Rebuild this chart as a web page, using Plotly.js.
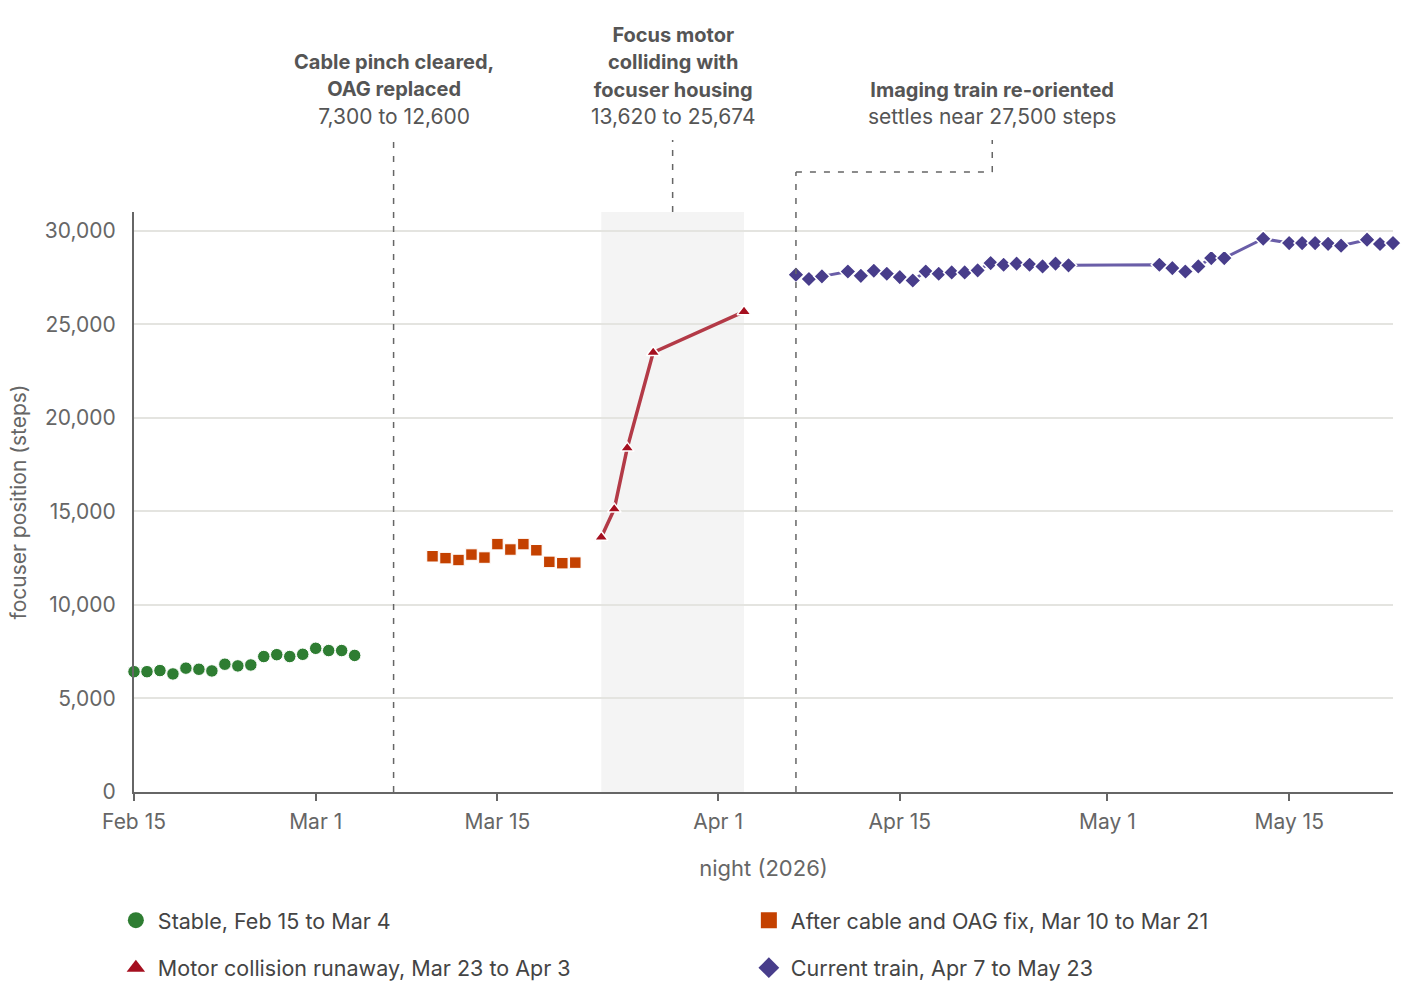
<!DOCTYPE html>
<html>
<head>
<meta charset="utf-8">
<script src="https://cdn.plot.ly/plotly-3.0.1.min.js"></script>
<style>html,body{margin:0;padding:0;background:#fff;}#chart{width:1410px;height:1008px;}</style>
</head>
<body>
<div id="chart"></div>
<script>
// ---- data ----
const stableDates = ['2026-02-15','2026-02-16','2026-02-17','2026-02-18','2026-02-19','2026-02-20','2026-02-21','2026-02-22','2026-02-23','2026-02-24','2026-02-25','2026-02-26','2026-02-27','2026-02-28','2026-03-01','2026-03-02','2026-03-03','2026-03-04'];
const stableSteps = [6430,6430,6490,6310,6620,6560,6470,6830,6740,6790,7240,7340,7240,7360,7680,7560,7560,7300];

const fixDates = ['2026-03-10','2026-03-11','2026-03-12','2026-03-13','2026-03-14','2026-03-15','2026-03-16','2026-03-17','2026-03-18','2026-03-19','2026-03-20','2026-03-21'];
const fixSteps = [12600,12500,12400,12690,12530,13250,12960,13250,12920,12300,12230,12260];

const runawayDates = ['2026-03-23','2026-03-24','2026-03-25','2026-03-27','2026-04-03'];
const runawaySteps = [13620,15120,18380,23490,25674];

const currentDates = ['2026-04-07','2026-04-08','2026-04-09','2026-04-11','2026-04-12','2026-04-13','2026-04-14','2026-04-15','2026-04-16','2026-04-17','2026-04-18','2026-04-19','2026-04-20','2026-04-21','2026-04-22','2026-04-23','2026-04-24','2026-04-25','2026-04-26','2026-04-27','2026-04-28','2026-05-05','2026-05-06','2026-05-07','2026-05-08','2026-05-09','2026-05-10','2026-05-13','2026-05-15','2026-05-16','2026-05-17','2026-05-18','2026-05-19','2026-05-21','2026-05-22','2026-05-23'];
const currentSteps = [27650,27420,27560,27820,27590,27860,27700,27520,27340,27820,27700,27770,27770,27880,28270,28180,28240,28180,28090,28240,28150,28180,28000,27820,28090,28540,28540,29570,29340,29340,29340,29300,29200,29520,29290,29340];

const seriesNames = ['Stable, Feb 15 to Mar 4','After cable and OAG fix, Mar 10 to Mar 21','Motor collision runaway, Mar 23 to Apr 3','Current train, Apr 7 to May 23'];
const seriesColors = ['#2e7d32','#c44100','#a50f1f','#483d8b'];
const seriesSymbols = ['circle','square','triangle-up','diamond'];

const xTickVals = ['2026-02-15','2026-03-01','2026-03-15','2026-04-01','2026-04-15','2026-05-01','2026-05-15'];
const xTickText = ['Feb 15','Mar 1','Mar 15','Apr 1','Apr 15','May 1','May 15'];
const yTickVals = [0,5000,10000,15000,20000,25000,30000];
const yTickText = ['0','5,000','10,000','15,000','20,000','25,000','30,000'];

const annoHeads = [
  ['Cable pinch cleared,','OAG replaced'],
  ['Focus motor','colliding with','focuser housing'],
  ['Imaging train re-oriented']
];
const annoSubs = ['7,300 to 12,600','13,620 to 25,674','settles near 27,500 steps'];
const annoDates = ['2026-03-07','2026-03-28 12:00','2026-04-22 03:00'];

// ---- chart ----
const FONT = 'Inter, "Noto Sans", Roboto, sans-serif';
const B = s => '<span style="font-size:20px"><b>' + s + '</b></span>';

const dataTraces = [
  {x: stableDates, y: stableSteps, type: 'scatter', mode: 'markers', cliponaxis: false, showlegend: false,
   marker: {symbol: seriesSymbols[0], size: 12.5, color: seriesColors[0], line: {color: '#ffffff', width: 1}}},
  {x: fixDates, y: fixSteps, type: 'scatter', mode: 'markers', cliponaxis: false, showlegend: false,
   marker: {symbol: seriesSymbols[1], size: 11.5, color: seriesColors[1], line: {color: '#ffffff', width: 1}}},
  {x: runawayDates, y: runawaySteps, type: 'scatter', mode: 'lines+markers', cliponaxis: false, showlegend: false,
   line: {color: '#b33a47', width: 3.5}, marker: {symbol: seriesSymbols[2], size: 12, color: seriesColors[2], line: {color: '#ffffff', width: 1.5}}},
  {x: currentDates, y: currentSteps, type: 'scatter', mode: 'lines+markers', cliponaxis: false, showlegend: false,
   line: {color: '#6a5ea8', width: 3}, marker: {symbol: seriesSymbols[3], size: 12.5, color: seriesColors[3], line: {color: '#ffffff', width: 1.5}}}
];
// legend-only entries (no data points)
const legendTraces = seriesNames.map((n, i) => ({
  x: [null], y: [null], type: 'scatter', mode: 'markers', name: n, hoverinfo: 'skip',
  legend: i < 2 ? 'legend' : 'legend2',
  marker: {symbol: seriesSymbols[i], size: 16, color: seriesColors[i]}
}));

const dashStyle = {color: '#666666', width: 1.5, dash: '6px,8px'};
const shapes = [
  {type: 'rect', xref: 'x', yref: 'paper', x0: '2026-03-23', x1: '2026-04-03', y0: 0, y1: 1, fillcolor: '#f4f4f4', line: {width: 0}, layer: 'below'},
  {type: 'line', xref: 'x', yref: 'paper', x0: annoDates[0], x1: annoDates[0], y0: 0, y1: 1.124, line: dashStyle},
  {type: 'line', xref: 'x', yref: 'paper', x0: annoDates[1], x1: annoDates[1], y0: 1, y1: 1.124, line: dashStyle},
  {type: 'line', xref: 'x', yref: 'paper', x0: '2026-04-07', x1: '2026-04-07', y0: 0, y1: 1.069, line: dashStyle},
  {type: 'line', xref: 'x', yref: 'paper', x0: '2026-04-07', x1: annoDates[2], y0: 1.069, y1: 1.069, line: dashStyle},
  {type: 'line', xref: 'x', yref: 'paper', x0: annoDates[2], x1: annoDates[2], y0: 1.069, y1: 1.124, line: dashStyle}
];

const annotations = annoHeads.map((h, i) => ({
  text: h.map(B).join('<br>') + '<br>' + annoSubs[i],
  xref: 'x', yref: 'paper', x: annoDates[i], y: 1.14, xanchor: 'center', yanchor: 'bottom',
  showarrow: false, align: 'center', font: {family: FONT, size: 21, color: '#555555'}
}));

const legendCommon = {orientation: 'h', xref: 'paper', yref: 'paper', xanchor: 'left', yanchor: 'middle',
  entrywidth: 584, entrywidthmode: 'pixels', font: {family: FONT, size: 21.5, color: '#444444'}, bgcolor: 'rgba(0,0,0,0)', itemwidth: 34};

const layout = {
  width: 1410, height: 1008,
  margin: {l: 134, r: 17, t: 212, b: 216},
  paper_bgcolor: '#ffffff', plot_bgcolor: '#ffffff',
  font: {family: FONT, size: 21, color: '#666666'},
  showlegend: true,
  legend: Object.assign({x: -0.016, y: -0.221}, legendCommon),
  legend2: Object.assign({x: -0.016, y: -0.303}, legendCommon),
  xaxis: {
    type: 'date', range: ['2026-02-15', '2026-05-23'],
    tickvals: xTickVals, ticktext: xTickText, ticks: 'outside', ticklen: 7, tickwidth: 1.5, tickcolor: '#666666',
    ticklabelstandoff: 3,
    showline: true, linecolor: '#666666', linewidth: 2, showgrid: false, zeroline: false,
    tickfont: {family: FONT, size: 21, color: '#666666'},
    title: {text: 'night (2026)', font: {family: FONT, size: 22, color: '#666666'}, standoff: 27}
  },
  yaxis: {
    range: [0, 31000], tickvals: yTickVals, ticktext: yTickText, ticks: '', ticklabelstandoff: 12,
    showline: true, linecolor: '#666666', linewidth: 2, showgrid: true, gridcolor: '#e4e4e0', gridwidth: 1.5, zeroline: false,
    tickfont: {family: FONT, size: 21, color: '#666666'},
    title: {text: 'focuser position (steps)', font: {family: FONT, size: 21, color: '#666666'}, standoff: 12}
  },
  shapes: shapes,
  annotations: annotations
};

Plotly.newPlot('chart', dataTraces.concat(legendTraces), layout, {displayModeBar: false, responsive: false});
</script>
</body>
</html>
